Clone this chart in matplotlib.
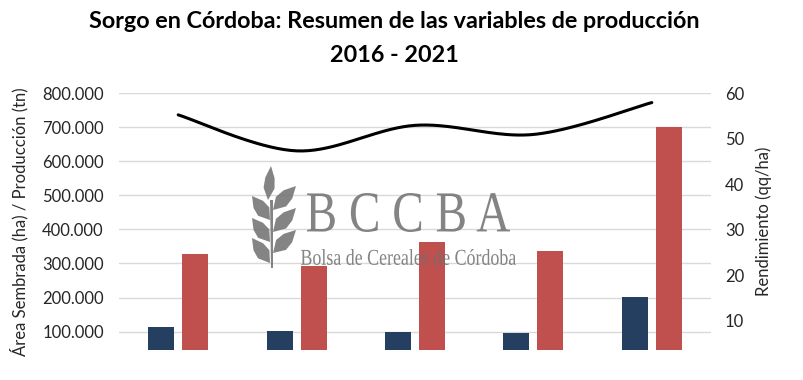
import numpy as np
import matplotlib
matplotlib.use("Agg")
import matplotlib.pyplot as plt
from matplotlib.patches import Polygon, PathPatch
from matplotlib.textpath import TextPath
from matplotlib.font_manager import FontProperties
from matplotlib.transforms import Affine2D, IdentityTransform

plt.rcParams["font.family"] = ["Lato", "DejaVu Sans"]

campanas = ["2016/17", "2017/18", "2018/19", "2019/20", "2020/21"]
area_ha = [113700, 102000, 99000, 95000, 200600]
produccion_tn = [327500, 293300, 362000, 335200, 701000]
rendimiento_qq = [55.2, 47.3, 52.9, 50.9, 57.9]

AZUL = "#243F60"
ROJO = "#C0504D"
W, H = 804, 380


def smooth(xs, ys, n=40):
    # excel-style smoothed line (catmull-rom bezier through the points)
    P = np.column_stack([xs, ys]).astype(float)
    P = np.vstack([P[0], P, P[-1]])
    out = []
    t = np.linspace(0, 1, n)[:, None]
    for i in range(1, len(P) - 2):
        p0, p1, p2, p3 = P[i - 1], P[i], P[i + 1], P[i + 2]
        c1 = p1 + (p2 - p0) / 6
        c2 = p2 - (p3 - p1) / 6
        seg = ((1 - t) ** 3) * p1 + 3 * ((1 - t) ** 2) * t * c1 + 3 * (1 - t) * t ** 2 * c2 + t ** 3 * p2
        out.append(seg)
    out = np.vstack(out)
    return out[:, 0], out[:, 1]


fig = plt.figure(figsize=(W / 100, H / 100), dpi=100)
ax = fig.add_axes([119 / W, 1 - 350 / H, (711 - 119) / W, (350 - 93) / H])
ax2 = ax.twinx()

x = np.arange(len(campanas))
bw = 0.22
ax.bar(x - 0.1436, area_ha, bw, color=AZUL, zorder=3)
ax.bar(x + 0.1436, produccion_tn, bw, color=ROJO, zorder=3)

lx, ly = smooth(x, rendimiento_qq)
ax2.plot(lx, ly, color="black", lw=2.2, solid_capstyle="round")

ax.set_xlim(-0.5, 4.5)
ax.set_ylim(46300, 800000)
ax.set_yticks(np.arange(100000, 800001, 100000))
ax.set_yticklabels([f"{v:,.0f}".replace(",", ".") for v in ax.get_yticks()])
ax2.set_ylim(3.6, 60)
ax2.set_yticks(np.arange(10, 61, 10))
ax.set_xticks([])

ax.grid(axis="y", color="#D9D9D9", lw=1.0, zorder=0)
ax.set_axisbelow(True)
for a in (ax, ax2):
    for s in a.spines.values():
        s.set_visible(False)
    a.tick_params(length=0, labelsize=12, colors="#262626")
ax.tick_params(axis="y", pad=11)
ax2.tick_params(axis="y", pad=10)

ax.set_ylabel("Área Sembrada (ha) / Producción (tn)", fontsize=12, color="#262626", labelpad=10)
ax2.set_ylabel("Rendimiento (qq/ha)", fontsize=12, color="#262626", labelpad=8)

fig.text(394 / W, 1 - 22 / H, "Sorgo en Córdoba: Resumen de las variables de producción",
         ha="center", va="center", fontsize=16.8, fontweight="bold", color="black")
fig.text(394 / W, 1 - 55 / H, "2016 - 2021",
         ha="center", va="center", fontsize=16.8, fontweight="bold", color="black")

# BCCBA watermark
GRIS = "#6f6f6f"


def fit_text(s, x0, y0, x1, y1, family="Liberation Serif"):
    tp = TextPath((0, 0), s, size=50, prop=FontProperties(family=family))
    bb = tp.get_extents()
    sx = (x1 - x0) / bb.width
    sy = (y1 - y0) / bb.height
    tr = (Affine2D().translate(-bb.x0, -bb.y0).scale(sx, sy)
          .translate(x0, H - y1))
    fig.add_artist(PathPatch(tr.transform_path(tp), fc=GRIS, ec="none",
                             alpha=0.85, transform=IdentityTransform(), zorder=5))


fit_text("B C C B A", 307, 193, 510, 232)
fit_text("Bolsa de Cereales de Córdoba", 301, 249, 516, 265)


def leaf(base, tip, half=7.0):
    b, t = np.array(base, float), np.array(tip, float)
    d = t - b
    nrm = np.array([-d[1], d[0]]) / np.hypot(*d)
    m1 = b + d * 0.35
    m2 = b + d * 0.65
    pts = [b, m1 + nrm * half, m2 + nrm * half * 0.85, t, m2 - nrm * half * 0.85, m1 - nrm * half]
    pts = [(p[0], H - p[1]) for p in pts]
    fig.add_artist(Polygon(pts, closed=True, fc=GRIS, ec="none", alpha=0.85,
                           transform=IdentityTransform(), zorder=5))


leaf((268, 200), (271, 166), 5.5)
leaf((273, 210), (296, 186))
leaf((273, 232), (296, 208))
leaf((273, 253), (296, 230))
leaf((270, 220), (252, 196))
leaf((270, 242), (252, 218))
leaf((270, 263), (252, 238))
fig.add_artist(Polygon([(270, H - 200), (273, H - 200), (273, H - 268), (271, H - 268)],
                       closed=True, fc=GRIS, ec="none", alpha=0.85,
                       transform=IdentityTransform(), zorder=5))

fig.savefig("out.png", dpi=100)
